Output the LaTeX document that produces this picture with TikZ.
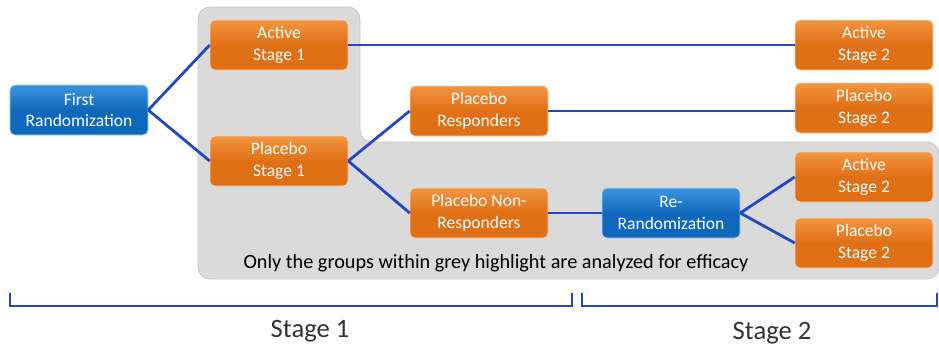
\documentclass[tikz,border=0pt]{standalone}
\usepackage{fontspec}
\setmainfont{Carlito}
\usepackage{xcolor}
\usetikzlibrary{calc,positioning}
\definecolor{armorange}{HTML}{E07015}
\definecolor{armorangetop}{HTML}{F29540}
\definecolor{randblue}{HTML}{1068BC}
\definecolor{randbluetop}{HTML}{3A96E0}
\definecolor{linkblue}{HTML}{2448C4}
\definecolor{highlightgray}{HTML}{DADADA}
\definecolor{labelgray}{HTML}{333333}

\tikzset{
    armbox/.style={rectangle, rounded corners=5bp, minimum width=138bp, minimum height=50bp,
        top color=armorangetop, bottom color=armorange, middle color=armorange,
        draw=white!70!armorange, line width=0.6bp, text=white, align=center,
        font=\fontsize{17.6}{21.5}\selectfont, inner sep=0pt},
    randbox/.style={armbox, top color=randbluetop, bottom color=randblue, middle color=randblue,
        draw=white!70!randblue},
    link/.style={linkblue, line width=2.8bp},
    bracket/.style={linkblue, line width=2.4bp}
}

\begin{document}
\begin{tikzpicture}[x=1bp,y=-1bp]
    \useasboundingbox (0,0) rectangle (939,351);

    % grey highlight
    \fill[highlightgray, draw=black!22, line width=0.8bp, rounded corners=12bp] (198,7) -- (360,7)
        -- (360,142) -- (939,142) -- (939,279) -- (198,279) -- cycle;

    \node[randbox] (FIRST) at (79,110) {First\\Randomization};
    \node[armbox] (ACT1) at (279,45) {Active\\Stage 1};
    \node[armbox] (PLA1) at (279,161) {Placebo\\Stage 1};
    \node[armbox] (PRESP) at (479,111) {Placebo\\Responders};
    \node[armbox] (PNON) at (479,213) {Placebo Non-\\Responders};
    \node[randbox] (RERAND) at (671,213) {Re-\\Randomization};
    \node[armbox] (ACT2A) at (864,45) {Active\\Stage 2};
    \node[armbox] (PLA2A) at (864,108) {Placebo\\Stage 2};
    \node[armbox] (ACT2B) at (864,177) {Active\\Stage 2};
    \node[armbox] (PLA2B) at (864,243) {Placebo\\Stage 2};

    \draw[link] (FIRST.east) -- (ACT1.west);
    \draw[link] (FIRST.east) -- (PLA1.west);
    \draw[link] (ACT1.east) -- (ACT2A.west);
    \draw[link] (PLA1.east) -- (PRESP.west);
    \draw[link] (PLA1.east) -- (PNON.west);
    \draw[link] (PRESP.east) -- (PRESP.east -| PLA2A.west);
    \draw[link] (PNON.east) -- (RERAND.west);
    \draw[link] (RERAND.east) -- (ACT2B.west);
    \draw[link] (RERAND.east) -- (PLA2B.west);

    \node[font=\fontsize{20.3}{24}\selectfont, text=black] (NOTE) at (496,263)
        {Only the groups within grey highlight are analyzed for efficacy};

    % stage brackets
    \draw[bracket] (10,293) -- (10,306) -- (572,306) -- (572,293);
    \draw[bracket] (582,293) -- (582,306) -- (937,306) -- (937,293);
    \node[font=\fontsize{26.7}{31}\selectfont, text=labelgray] (STAGEA) at (310,331) {Stage 1};
    \node[font=\fontsize{26.7}{31}\selectfont, text=labelgray] (STAGEB) at (772,333) {Stage 2};
\end{tikzpicture}
\end{document}
